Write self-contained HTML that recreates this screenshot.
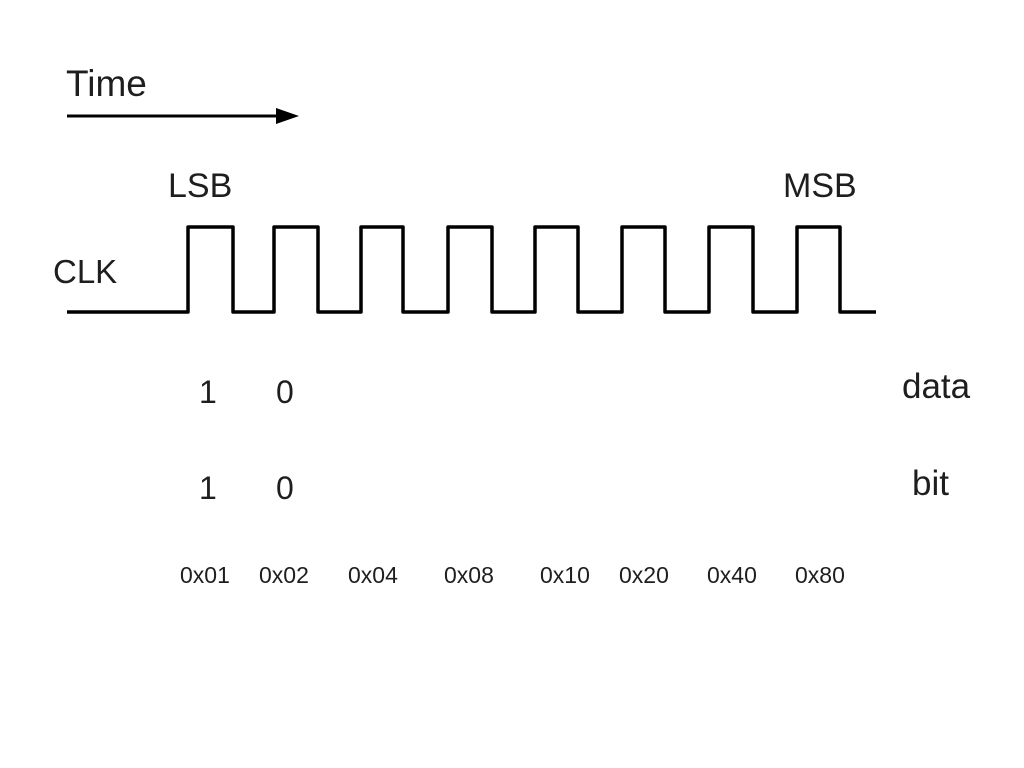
<!DOCTYPE html>
<html><head><meta charset="utf-8"><style>
html,body{margin:0;padding:0;background:#fff;}
svg{display:block;}
text{font-family:"Liberation Sans",sans-serif;fill:#1e1e1e;}
</style></head><body>
<svg id="chart" width="1024" height="768" viewBox="0 0 1024 768">
<text x="66" y="96" font-size="37">Time</text>
<line x1="67" y1="116" x2="278" y2="116" stroke="#000" stroke-width="3"/>
<polygon points="276,108 299,116 276,124" fill="#000"/>
<text x="168" y="197" font-size="34">LSB</text>
<text x="783" y="197" font-size="34">MSB</text>
<text x="53" y="283" font-size="33" fill="#333">CLK</text>
<path id="clk" fill="none" stroke="#000" stroke-width="3.5" stroke-linejoin="round"/>
<text x="902" y="398" font-size="35">data</text>
<text x="912" y="495" font-size="35">bit</text>
<g id="vals"></g>
<g id="hex"></g>
</svg>
<script>
const riseEdges = [188, 274, 361, 448, 535, 622, 709, 797];
const fallEdges = [233, 318, 403, 492, 578, 665, 753, 840];
const hexLabels = ["0x01","0x02","0x04","0x08","0x10","0x20","0x40","0x80"];
const hexX = [180, 259, 348, 444, 540, 619, 707, 795];
const dataBits = ["1","0"];
const bitBits = ["1","0"];
const valX = [199, 276];

const lowY = 312, highY = 227, startX = 67, endX = 876;
let d = "M" + startX + "," + lowY;
for (let i = 0; i < riseEdges.length; i++) {
  d += " L" + riseEdges[i] + "," + lowY + " L" + riseEdges[i] + "," + highY;
  d += " L" + fallEdges[i] + "," + highY + " L" + fallEdges[i] + "," + lowY;
}
d += " L" + endX + "," + lowY;
document.getElementById('clk').setAttribute('d', d);

const NS = "http://www.w3.org/2000/svg";
const hg = document.getElementById('hex');
hexLabels.forEach((t, i) => {
  const el = document.createElementNS(NS, 'text');
  el.setAttribute('x', hexX[i]);
  el.setAttribute('y', 583);
  el.setAttribute('font-size', 23);
  el.textContent = t;
  
  
  hg.appendChild(el);
});
const vg = document.getElementById('vals');
dataBits.forEach((t, i) => {
  const el = document.createElementNS(NS, 'text');
  el.setAttribute('x', valX[i]);
  el.setAttribute('y', 403);
  el.setAttribute('font-size', 32);
  el.textContent = t;
  
  
  vg.appendChild(el);
});
bitBits.forEach((t, i) => {
  const el = document.createElementNS(NS, 'text');
  el.setAttribute('x', valX[i]);
  el.setAttribute('y', 499);
  el.setAttribute('font-size', 32);
  el.textContent = t;
  
  
  vg.appendChild(el);
});
</script>
</body></html>
